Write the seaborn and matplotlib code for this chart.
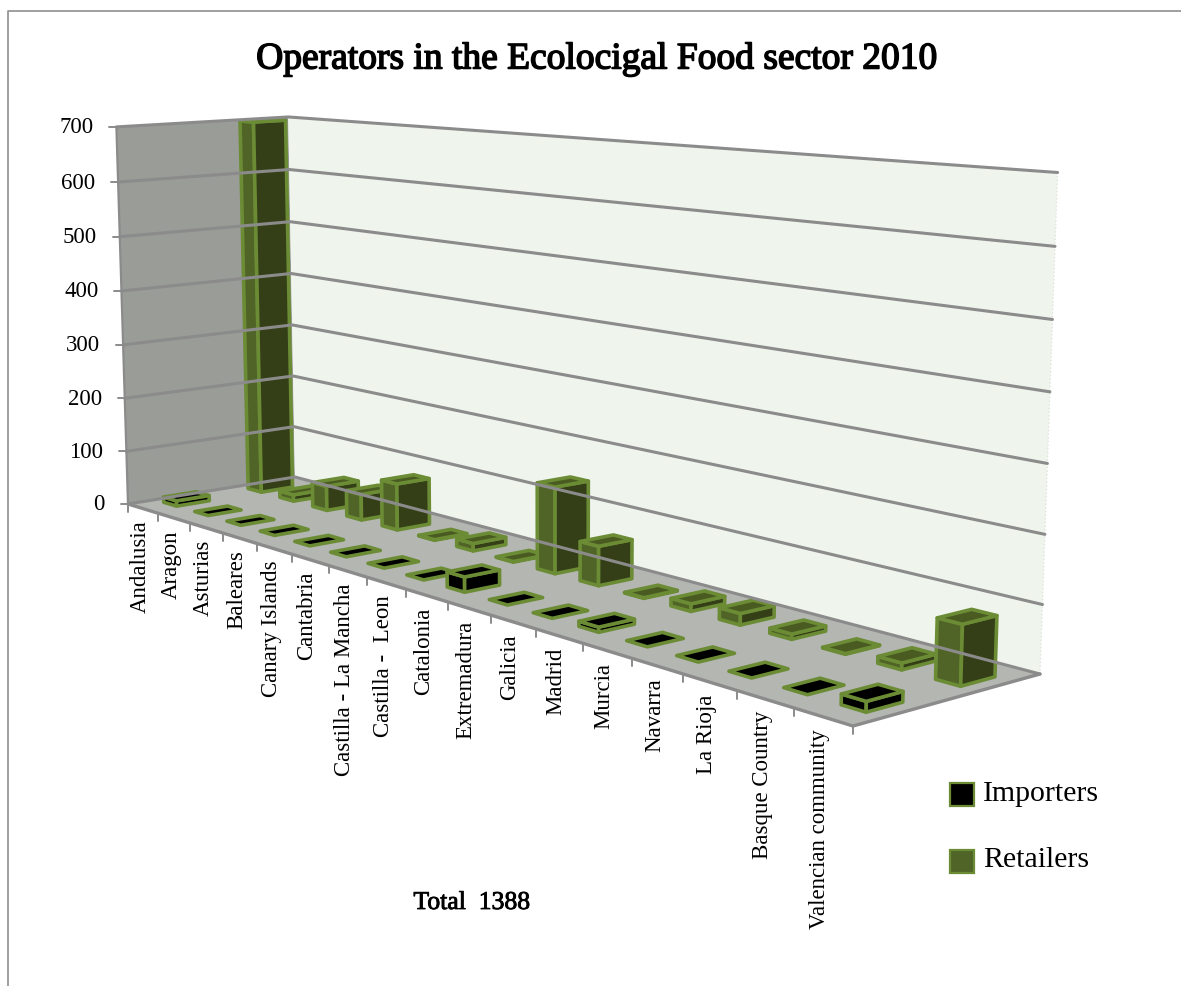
"""Operators in the ecological food sector 2010, drawn as an Excel style 3D column chart."""
import matplotlib

matplotlib.use("Agg")
import matplotlib.patheffects as pe
import matplotlib.pyplot as plt
import numpy as np
import pandas as pd
import seaborn as sns
from matplotlib.patches import Patch, Polygon

regions = [
    "Andalusia", "Aragon", "Asturias", "Baleares", "Canary Islands", "Cantabria",
    "Castilla - La Mancha", "Castilla -  Leon", "Catalonia", "Extremadura", "Galicia",
    "Madrid", "Murcia", "Navarra", "La Rioja", "Basque Country", "Valencian community",
]
importers = [10, 0, 0, 0, 0, 0, 0, 0, 25, 0, 0, 8, 0, 0, 0, 0, 15]
retailers = [700, 12, 45, 47, 83, 1, 13, 1, 145, 65, 1, 12, 18, 8, 1, 10, 88]
value_ticks = [0, 100, 200, 300, 400, 500, 600, 700]

# chart box corners in pixels: floor (front left, front right, back right, back left)
FLOOR_PX = [(128, 505), (853, 727), (1040, 675), (295, 478)]
# top of the walls: (u, v) of the corner -> pixel
TOP_PX = [((0, 0), (115, 126)), ((0, 1), (290, 118)), ((1, 1), (1057, 176))]


def fit_camera():
    rows, rhs = [], []
    for (a, b), (px, py) in zip([(0, 0), (1, 0), (1, 1), (0, 1)], FLOOR_PX):
        rows.append([a, b, 1, 0, 0, 0, -px * a, -px * b])
        rows.append([0, 0, 0, a, b, 1, -py * a, -py * b])
        rhs += [px, py]
    floor = np.append(np.linalg.solve(np.array(rows, float), np.array(rhs, float)), 1.0).reshape(3, 3)

    # third column of the camera, the value direction, from the wall tops
    rows, rhs = [], []
    for (a, b), (px, py) in TOP_PX:
        f = floor @ np.array([a, b, 1.0])
        rows.append([1, 0, -px])
        rows.append([0, 1, -py])
        rhs += [px * f[2] - f[0], py * f[2] - f[1]]
    up = np.linalg.lstsq(np.array(rows, float), np.array(rhs, float), rcond=None)[0]
    return np.column_stack([floor[:, 0], floor[:, 1], up, floor[:, 2]])


CAMERA = fit_camera()


def project(u, v, w):
    """category slot, depth (0 front, 1 back) and value to picture pixels"""
    x, y, s = CAMERA @ np.array([u / len(regions), v, w / value_ticks[-1], 1.0])
    return x / s, y / s


def quad(corners, **kw):
    ax.add_patch(Polygon([project(*c) for c in corners], closed=True, **kw))


def draw_box(slot, depth, value, colors):
    u0, u1 = slot + 0.5 - BAR_U / 2, slot + 0.5 + BAR_U / 2
    v0, v1 = depth - BAR_V / 2, depth + BAR_V / 2
    style = dict(edgecolor=colors["edge"], linewidth=2.6, joinstyle="round")
    if value > 0:
        quad([(u0, v0, 0), (u1, v0, 0), (u1, v0, value), (u0, v0, value)], facecolor=colors["left"], **style)
        quad([(u1, v0, 0), (u1, v1, 0), (u1, v1, value), (u1, v0, value)], facecolor=colors["right"], **style)
    quad([(u0, v0, value), (u1, v0, value), (u1, v1, value), (u0, v1, value)], facecolor=colors["top"], **style)


BAR_U, BAR_V = 0.42, 0.19
GREEN = {"left": "#4f6426", "right": "#343f17", "top": "#4a5b22", "edge": "#6b8c35"}
BLACK = {"left": "#000000", "right": "#000000", "top": "#000000", "edge": "#6b8c35"}
GRID = "#8b8b8b"
FONT = "Liberation Serif"

sns.set_theme(style="white", rc={"font.family": FONT})
n = len(regions)

fig = plt.figure(figsize=(11.81, 9.87), dpi=100)
ax = fig.add_axes([0, 0, 1, 1])
ax.set_xlim(0, 1181)
ax.set_ylim(987, 0)

# outer frame of the pasted chart, top and left only
ax.plot([8, 8, 1181], [987, 12, 12], color="#8f8f8f", lw=1.2)

top = value_ticks[-1]
quad([(0, 0, 0), (0, 1, 0), (0, 1, top), (0, 0, top)], facecolor="#9a9c98", edgecolor="none")
quad([(0, 1, 0), (n, 1, 0), (n, 1, top), (0, 1, top)], facecolor="#eff4ec", edgecolor="none")
quad([(0, 0, 0), (n, 0, 0), (n, 1, 0), (0, 1, 0)], facecolor="#b4b6b2", edgecolor="none")
ax.plot(*zip(project(n, 1, 0), project(n, 1, top)), color="#dfe5dc", lw=1, ls=":")

grid_rows = []
for level in value_ticks:
    for order, (u, v) in enumerate([(0, 0), (0, 1), (n, 1)]):
        px, py = project(u, v, level)
        grid_rows.append({"level": level, "order": order, "px": px, "py": py})
grid = pd.DataFrame(grid_rows)
sns.lineplot(data=grid, x="px", y="py", units="level", estimator=None, sort=False,
             color=GRID, lw=2.2, ax=ax, legend=False)
ax.axis("off")

# box edges and ticks
ax.plot(*zip(project(0, 0, 0), project(0, 0, top)), color=GRID, lw=1.6)
ax.plot(*zip(project(0, 0, 0), project(n, 0, 0), project(n, 1, 0)), color=GRID, lw=2.4)
for level in value_ticks:
    px, py = project(0, 0, level)
    ax.plot([px - 7, px], [py, py], color=GRID, lw=1.4)
    ax.text(px - 23, py, str(level), ha="right", va="center", fontsize=16.5, color="black")
for slot in range(n + 1):
    px, py = project(slot, 0, 0)
    ax.plot([px, px], [py, py + 8], color=GRID, lw=1.4)
for slot, name in enumerate(regions):
    px, py = project(slot + 0.5, 0, 0)
    ax.text(px - 3, py + 11, name, rotation=90, ha="center", va="top", fontsize=16.5, color="black")

# far row first, then near row, left to right
for slot, value in enumerate(retailers):
    draw_box(slot, 0.75, value, GREEN)
for slot, value in enumerate(importers):
    draw_box(slot, 0.25, value, BLACK)

ax.text(596, 60, "Operators in the Ecolocigal Food sector 2010", ha="center", va="center", fontsize=27,
        color="black", path_effects=[pe.withStroke(linewidth=1.1, foreground="black")])
ax.text(472, 904, "Total  1388", ha="center", va="center", fontsize=18.5, color="black",
        path_effects=[pe.withStroke(linewidth=0.6, foreground="black")])

handles = [
    Patch(facecolor="#000000", edgecolor=GREEN["edge"], linewidth=1.6, label="Importers"),
    Patch(facecolor=GREEN["left"], edgecolor=GREEN["edge"], linewidth=1.6, label="Retailers"),
]
legend = ax.legend(handles=handles, loc="upper left", bbox_to_anchor=(923 / 1181, 1 - 752 / 987), frameon=False,
                   fontsize=21.5, handlelength=0.8, handleheight=0.8, handletextpad=0.3, labelspacing=1.3)
for label in legend.get_texts():
    label.set_color("black")
for swatch in legend.get_patches():
    swatch.set_y(swatch.get_y() - 4)

fig.savefig("out.png", dpi=100)
plt.close(fig)
